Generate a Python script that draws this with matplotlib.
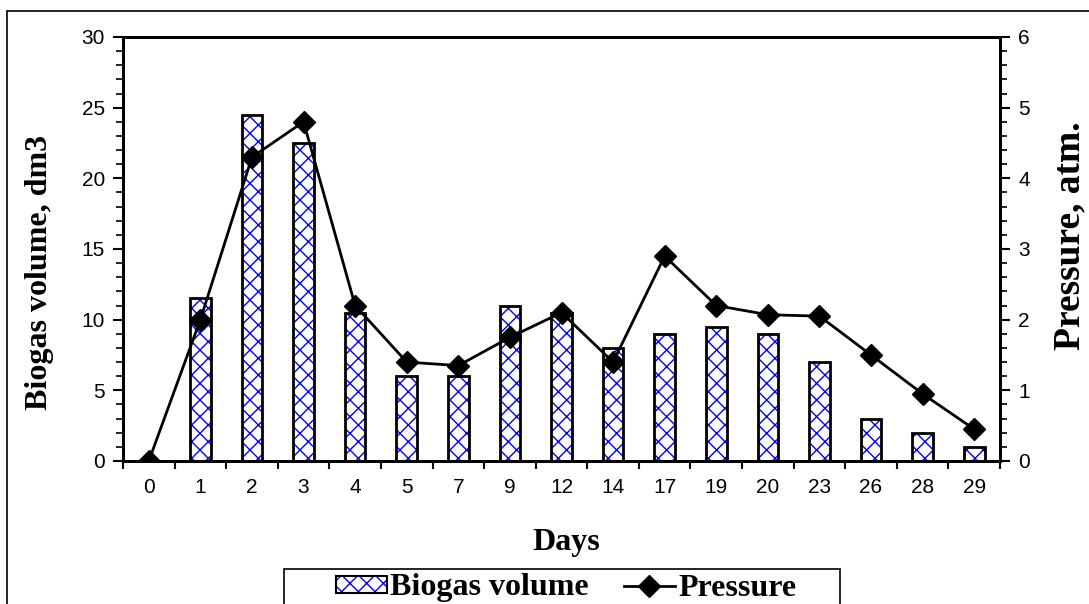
import matplotlib
matplotlib.use("Agg")
import matplotlib.pyplot as plt
import numpy as np
from matplotlib.patches import Rectangle, Patch
from matplotlib.lines import Line2D

days = ["0", "1", "2", "3", "4", "5", "7", "9", "12", "14", "17", "19", "20", "23", "26", "28", "29"]
biogas = [0, 11.5, 24.5, 22.5, 10.5, 6, 6, 11, 10.5, 8, 9, 9.5, 9, 7, 3, 2, 1]
pressure = [0, 2.0, 4.3, 4.8, 2.2, 1.4, 1.35, 1.75, 2.1, 1.4, 2.9, 2.2, 2.07, 2.05, 1.5, 0.95, 0.45]

W, H = 1089, 604
plt.rcParams["hatch.linewidth"] = 1.0
sans = ["Liberation Sans", "DejaVu Sans"]
serif = ["Liberation Serif", "DejaVu Serif"]


def fx(px):
    return px / W


def fy(py):
    return 1 - py / H


fig = plt.figure(figsize=(W / 100, H / 100), dpi=100)
ax = fig.add_axes([fx(123), fy(461), 877 / W, 424 / H])
ax2 = ax.twinx()

# outer frame (cropped in the original)
fig.patches.append(Rectangle((fx(7), -0.1), 1.2, fy(11) + 0.1,
                             transform=fig.transFigure, fill=False,
                             edgecolor="black", linewidth=1.2))

x = np.arange(len(days))
w = 0.4
# hatch layer then black outline
ax.bar(x, biogas, w, color="white", edgecolor="blue", hatch="xx", linewidth=0, zorder=2)
ax.bar(x, biogas, w, fill=False, edgecolor="black", linewidth=2, zorder=3)

ax2.plot(x, pressure, color="black", linewidth=2, marker="D", markersize=11, zorder=4)

ax.set_xlim(-0.5, len(days) - 0.5)
ax.set_ylim(0, 30)
ax2.set_ylim(0, 6)

ax.set_yticks(np.arange(0, 31, 5))
ax.set_yticks(np.arange(0, 31, 1), minor=True)
ax2.set_yticks(np.arange(0, 7, 1))
ax2.set_yticks(np.arange(0, 6.01, 0.2), minor=True)

# category ticks at boundaries, labels at centers
ax.set_xticks(np.arange(-0.5, len(days), 1))
ax.set_xticklabels([])
ax.set_xticks(x, minor=True)
ax.set_xticklabels(days, minor=True, fontfamily=sans, fontsize=15)
ax.tick_params(axis="x", which="major", direction="out", length=6, width=1.5)
ax.tick_params(axis="x", which="minor", length=0, pad=12)

for a in (ax, ax2):
    a.tick_params(axis="y", which="major", direction="out", length=7, width=1.5, labelsize=15, pad=6)
    a.tick_params(axis="y", which="minor", direction="out", length=5, width=1.2)
    for lab in a.get_yticklabels():
        lab.set_fontfamily(sans)
    for s in a.spines.values():
        s.set_linewidth(2)

lab_kw = dict(fontfamily=serif, fontweight="bold")
fig.text(fx(566), fy(550), "Days", ha="center", va="baseline", fontsize=23, **lab_kw)
fig.text(fx(40), fy(272), "Biogas volume, dm3", ha="center", va="center",
         rotation=90, fontsize=23, **lab_kw)
fig.text(fx(1070), fy(236), "Pressure, atm.", ha="center", va="center",
         rotation=90, fontsize=27, **lab_kw)

# legend: frame drawn separately, entries centred in it
fig.patches.append(Rectangle((fx(284), -0.1), (840 - 284) / W, fy(569) + 0.1,
                             transform=fig.transFigure, fill=False,
                             edgecolor="black", linewidth=1.2))
bar_handle = (Patch(facecolor="white", edgecolor="blue", hatch="xx", linewidth=0),
              Patch(fill=False, edgecolor="black", linewidth=1.5))
line_handle = Line2D([], [], color="black", linewidth=2, marker="D", markersize=11)
fig.legend([bar_handle, line_handle], ["Biogas volume", "Pressure"], ncol=2,
           loc="center", bbox_to_anchor=(fx(566), fy(588)), frameon=False,
           borderpad=0, borderaxespad=0,
           prop={"family": serif, "weight": "bold", "size": 23},
           handlelength=1.6, handleheight=0.45, handletextpad=0.1,
           columnspacing=1.1)

fig.savefig("out.png", dpi=100)
